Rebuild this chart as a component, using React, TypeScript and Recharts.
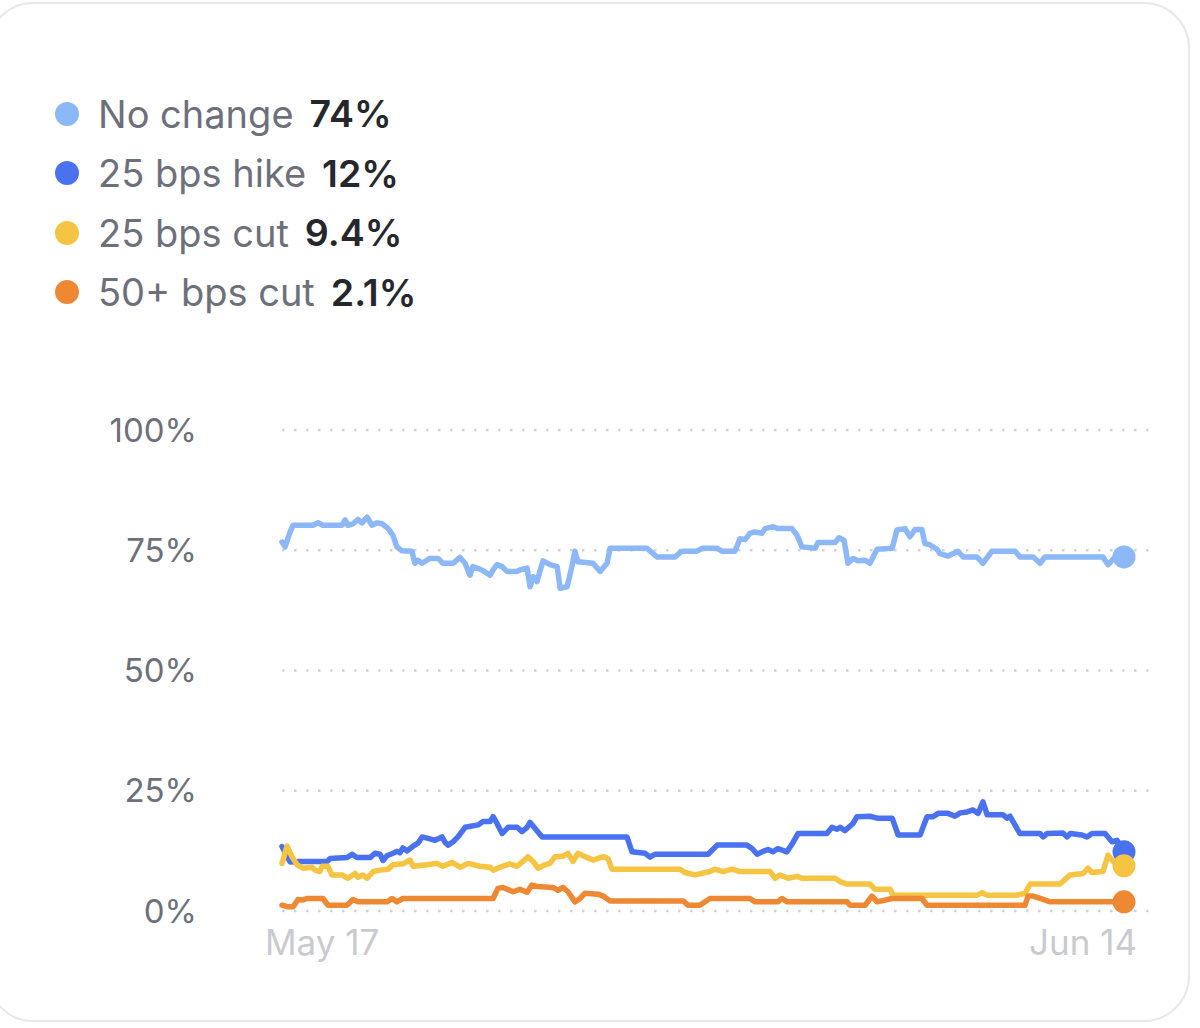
import { LineChart, Line, XAxis, YAxis, CartesianGrid } from 'recharts'

// days since May 17, probability in %
const noChange: [number, number][] = [
  [0, 76.7], [0.1, 75.7], [0.27, 78.8], [0.37, 80.2], [1.03, 80.2], [1.2, 80.7], [1.36, 80.2],
  [2.0, 80.2], [2.1, 81.3], [2.19, 80.2], [2.36, 80.5], [2.53, 81.4], [2.66, 80.7], [2.83, 81.9],
  [2.99, 80.2], [3.16, 80.7], [3.33, 80.5], [3.53, 79.5], [3.69, 78.1], [3.82, 75.7], [3.99, 74.9],
  [4.32, 74.8], [4.42, 72.3], [4.52, 72.9], [4.66, 72.3], [4.92, 73.3], [5.19, 73.3], [5.35, 72.3],
  [5.69, 72.3], [5.92, 73.5], [6.09, 72.3], [6.25, 69.8], [6.35, 71.6], [6.65, 70.9], [6.92, 69.8],
  [7.02, 70.9], [7.15, 72], [7.32, 71.6], [7.48, 70.6], [7.82, 70.6], [7.91, 70.9], [8.15, 71.3],
  [8.25, 67.4], [8.35, 69.5], [8.48, 68.5], [8.68, 72.8], [8.91, 72], [9.15, 71.6], [9.25, 67.1],
  [9.48, 67.4], [9.64, 71.6], [9.74, 74.8], [9.84, 72.6], [10.34, 72.3], [10.58, 70.6], [10.81, 72.3],
  [10.91, 75.4], [12.14, 75.4], [12.47, 73.6], [13.07, 73.6], [13.3, 74.8], [13.8, 74.8], [13.97, 75.4],
  [14.47, 75.4], [14.63, 74.8], [15.06, 74.8], [15.23, 77.4], [15.4, 77.2], [15.56, 78.5], [15.73, 78.8],
  [15.96, 78.5], [16.06, 79.5], [16.33, 79.9], [16.49, 79.5], [16.96, 79.5], [17.13, 78.1], [17.29, 75.7],
  [17.73, 75.4], [17.82, 76.6], [18.39, 76.6], [18.52, 77.6], [18.69, 77.1], [18.82, 72.3], [18.99, 73.3],
  [19.15, 72.8], [19.39, 72.9], [19.55, 72.3], [19.79, 75.2], [20.29, 75.4], [20.45, 79.2], [20.72, 79.5],
  [20.88, 77.8], [21.05, 79.3], [21.28, 79.3], [21.38, 76.4], [21.55, 76.1], [21.78, 75.2], [21.88, 74.3],
  [22.15, 73.8], [22.31, 74.3], [22.48, 74.8], [22.65, 73.6], [23.11, 73.6], [23.31, 72.3], [23.61, 74.8],
  [24.38, 74.8], [24.54, 73.6], [24.98, 73.6], [25.21, 72.3], [25.37, 73.6], [27.3, 73.6], [27.47, 72],
  [27.7, 73.6], [28, 73.6],
]

const hike25: [number, number][] = [
  [0, 13.4], [0.27, 10.2], [0.6, 10.3], [1.5, 10.3], [1.6, 10.9], [2.16, 11.1], [2.33, 11.8], [2.49, 11.1],
  [2.93, 11.1], [3.09, 12], [3.26, 11.8], [3.36, 10.5], [3.49, 11.5], [3.69, 12], [3.82, 12.4], [3.92, 12.1],
  [4.02, 13.1], [4.16, 12.5], [4.36, 13.5], [4.52, 14.1], [4.66, 15.4], [4.86, 15.1], [5.09, 14.7],
  [5.32, 15.4], [5.42, 14.3], [5.52, 13.7], [5.69, 14.4], [5.85, 15.4], [6.09, 17.4], [6.52, 17.9],
  [6.68, 18.6], [6.92, 18.6], [7.02, 19.6], [7.15, 18.2], [7.32, 16.1], [7.52, 17.4], [7.82, 17.4],
  [7.98, 16.5], [8.15, 17.4], [8.25, 18.4], [8.41, 17.2], [8.65, 15.4], [11.47, 15.4], [11.64, 12.3],
  [12.07, 12], [12.24, 11.2], [12.4, 11.8], [14.17, 11.8], [14.47, 13.7], [15.46, 13.7], [15.63, 13],
  [15.8, 11.8], [15.96, 12.3], [16.16, 12.8], [16.33, 12.3], [16.49, 13], [16.79, 12.3], [16.99, 14.2],
  [17.16, 16.1], [18.12, 16.1], [18.29, 17.4], [18.46, 17], [18.56, 17.4], [18.72, 16.7], [18.99, 18.2],
  [19.12, 19.6], [19.55, 19.7], [19.79, 19.3], [20.29, 19.3], [20.49, 15.8], [21.22, 15.8], [21.45, 19.6],
  [21.65, 19.6], [21.82, 20.3], [22.15, 20.3], [22.38, 19.7], [22.55, 20.4], [22.78, 20.6], [22.98, 21],
  [23.15, 20.3], [23.31, 22.7], [23.45, 20], [23.98, 20], [24.11, 19.3], [24.21, 19.7], [24.31, 18.6],
  [24.54, 16.1], [25.21, 16.1], [25.31, 15.4], [25.44, 16.1], [25.97, 16.2], [26.11, 15.4], [26.21, 16.1],
  [26.6, 15.8], [26.77, 15.4], [26.94, 16.1], [27.37, 16.1], [27.6, 14.4], [27.77, 14.7], [28, 12.3],
]

const cut25: [number, number][] = [
  [0, 9.9], [0.17, 13.5], [0.33, 11.3], [0.5, 9.6], [0.7, 8.9], [1.0, 9.1], [1.1, 8.5], [1.26, 8.2],
  [1.33, 9.3], [1.53, 9.3], [1.66, 7.5], [2.0, 7.5], [2.19, 6.8], [2.43, 7.8], [2.53, 7], [2.69, 7.5],
  [2.83, 6.8], [3.03, 8.2], [3.26, 8.5], [3.53, 8.7], [3.69, 9.6], [4.02, 9.8], [4.26, 10.6], [4.36, 9.3],
  [4.82, 9.6], [5.15, 9.9], [5.35, 9.3], [5.65, 10.1], [5.92, 9.1], [6.19, 9.9], [6.58, 9.3], [6.92, 9.1],
  [7.02, 8.5], [7.25, 9.1], [7.58, 9.8], [7.82, 9.3], [8.01, 10.3], [8.18, 11.3], [8.35, 10.3], [8.51, 8.9],
  [8.75, 9.6], [8.91, 9.9], [9.08, 11.3], [9.34, 11.4], [9.51, 12], [9.68, 10.3], [9.84, 12], [10.08, 11.3],
  [10.34, 10.6], [10.68, 11.3], [10.84, 10.9], [10.97, 8.7], [13.24, 8.7], [13.4, 8], [13.73, 7.5],
  [14.23, 8.2], [14.4, 8.7], [14.67, 8.2], [14.97, 8.7], [15.23, 8.2], [16.23, 8.2], [16.4, 6.8],
  [16.56, 7.5], [16.83, 6.8], [17.13, 7.2], [17.29, 6.8], [18.39, 6.8], [18.56, 6.1], [18.79, 5.6],
  [19.55, 5.6], [19.72, 4.5], [20.22, 4.5], [20.32, 3.3], [23.11, 3.3], [23.28, 3.8], [23.45, 3.3],
  [24.44, 3.3], [24.71, 3.7], [24.88, 5.6], [25.87, 5.6], [26.21, 7.5], [26.64, 7.8], [26.8, 8.9],
  [26.94, 8], [27.3, 8.2], [27.47, 11.6], [27.64, 10.3], [28, 9.4],
]

const cut50: [number, number][] = [
  [0, 1.2], [0.17, 0.9], [0.37, 0.9], [0.53, 2.4], [0.7, 2.3], [0.83, 2.6], [1.36, 2.6], [1.53, 1.2],
  [2.16, 1.2], [2.36, 2.4], [2.53, 1.9], [3.49, 1.9], [3.66, 2.6], [3.82, 1.9], [4.02, 2.6], [7.02, 2.6],
  [7.18, 4.7], [7.35, 4.9], [7.68, 4], [7.91, 4.5], [8.15, 3.9], [8.31, 5.4], [8.48, 5.1], [9.01, 4.9],
  [9.18, 4.3], [9.34, 4.9], [9.51, 4], [9.74, 1.9], [9.91, 2.6], [10.08, 3.7], [10.51, 3.5], [10.68, 3.1],
  [10.91, 2.1], [13.34, 2.1], [13.5, 1.2], [13.9, 1.2], [14.23, 2.6], [15.56, 2.6], [15.73, 1.9],
  [16.49, 1.9], [16.63, 2.6], [16.79, 1.9], [18.79, 1.9], [18.89, 1.2], [19.39, 1.2], [19.62, 3.1],
  [19.79, 1.9], [20.29, 2.6], [21.28, 2.6], [21.45, 1.2], [24.71, 1.2], [24.81, 3.1], [24.98, 3.1],
  [25.31, 2.4], [25.54, 1.9], [28, 1.9],
]

const seriesNames = ['No change', '25 bps hike', '25 bps cut', '50+ bps cut']
const latestLabels = ['74%', '12%', '9.4%', '2.1%']
const seriesColors = ['#8cb8f7', '#4a72f0', '#f5c443', '#ef8833']
const seriesData = [noChange, hike25, cut25, cut50]

const yTicks = [0, 25, 50, 75, 100]
const xTicks = [0, 28]
const xTickLabels = ['May 17', 'Jun 14']

const toPoints = (rows: [number, number][]) => rows.map(([t, v]) => ({ t, v }))

function endDot(color: string, count: number) {
  return (props: any) => {
    const { cx, cy, index } = props
    if (index !== count - 1) return <g key={`d-${index}`} />
    return <circle key={`d-${index}`} cx={cx} cy={cy} r={11.5} fill={color} />
  }
}

function XTick(props: any) {
  const { x, y, payload, index } = props
  const first = index === 0
  return (
    <text
      x={first ? x - 17 : x + 13}
      y={y}
      dy="0.71em"
      textAnchor={first ? 'start' : 'end'}
      fill="#c9cacf"
      fontSize={35}
      fontFamily="Inter"
    >
      {xTickLabels[xTicks.indexOf(payload.value)]}
    </text>
  )
}

export default function App() {
  return (
    <div
      style={{
        position: 'absolute',
        left: 0,
        top: 0,
        width: 1200,
        height: 1028,
        overflow: 'hidden',
        background: '#ffffff',
        fontFamily: 'Inter, sans-serif',
      }}
    >
      <div
        style={{
          position: 'absolute',
          left: -13,
          top: 2,
          width: 1203,
          height: 1020,
          border: '2px solid #e7e8eb',
          borderRadius: 46,
          boxSizing: 'border-box',
        }}
      />
      <div style={{ position: 'absolute', left: 55, top: 84 }}>
        {seriesNames.map((name, i) => (
          <div key={name} style={{ display: 'flex', alignItems: 'center', height: 59.5 }}>
            <span
              style={{
                width: 24,
                height: 24,
                borderRadius: 12,
                background: seriesColors[i],
                marginRight: 19,
                flexShrink: 0,
              }}
            />
            <span style={{ fontSize: 38, color: '#6d707a', marginRight: 16 }}>{name}</span>
            <span style={{ fontSize: 37.5, color: '#26272c', fontWeight: 600 }}>{latestLabels[i]}</span>
          </div>
        ))}
      </div>
      <div style={{ position: 'absolute', left: 0, top: 0 }}>
        <LineChart width={1200} height={1000} margin={{ top: 430, right: 50, bottom: 29, left: 0 }}>
          <CartesianGrid
            vertical={false}
            stroke="#cfd2d8"
            strokeWidth={2.5}
            strokeDasharray="2.5 9.5"
          />
          <XAxis
            type="number"
            dataKey="t"
            domain={[0, 28]}
            ticks={xTicks}
            padding={{ left: 0, right: 26 }}
            axisLine={false}
            tickLine={false}
            tickSize={0}
            tickMargin={19}
            height={60}
            tick={<XTick />}
            allowDuplicatedCategory={false}
          />
          <YAxis
            type="number"
            domain={[0, 100]}
            ticks={yTicks}
            width={282}
            axisLine={false}
            tickLine={false}
            tickSize={0}
            tickMargin={85}
            tickFormatter={(v: number) => `${v}%`}
            tick={{ fill: '#6d707a', fontSize: 33, fontFamily: 'Inter' }}
          />
          {seriesData.map((rows, i) => (
            <Line
              key={seriesNames[i]}
              data={toPoints(rows)}
              dataKey="v"
              type="linear"
              stroke={seriesColors[i]}
              strokeWidth={5.5}
              strokeLinejoin="round"
              strokeLinecap="round"
              dot={endDot(seriesColors[i], rows.length)}
              activeDot={false}
              isAnimationActive={false}
            />
          ))}
        </LineChart>
      </div>
    </div>
  )
}
